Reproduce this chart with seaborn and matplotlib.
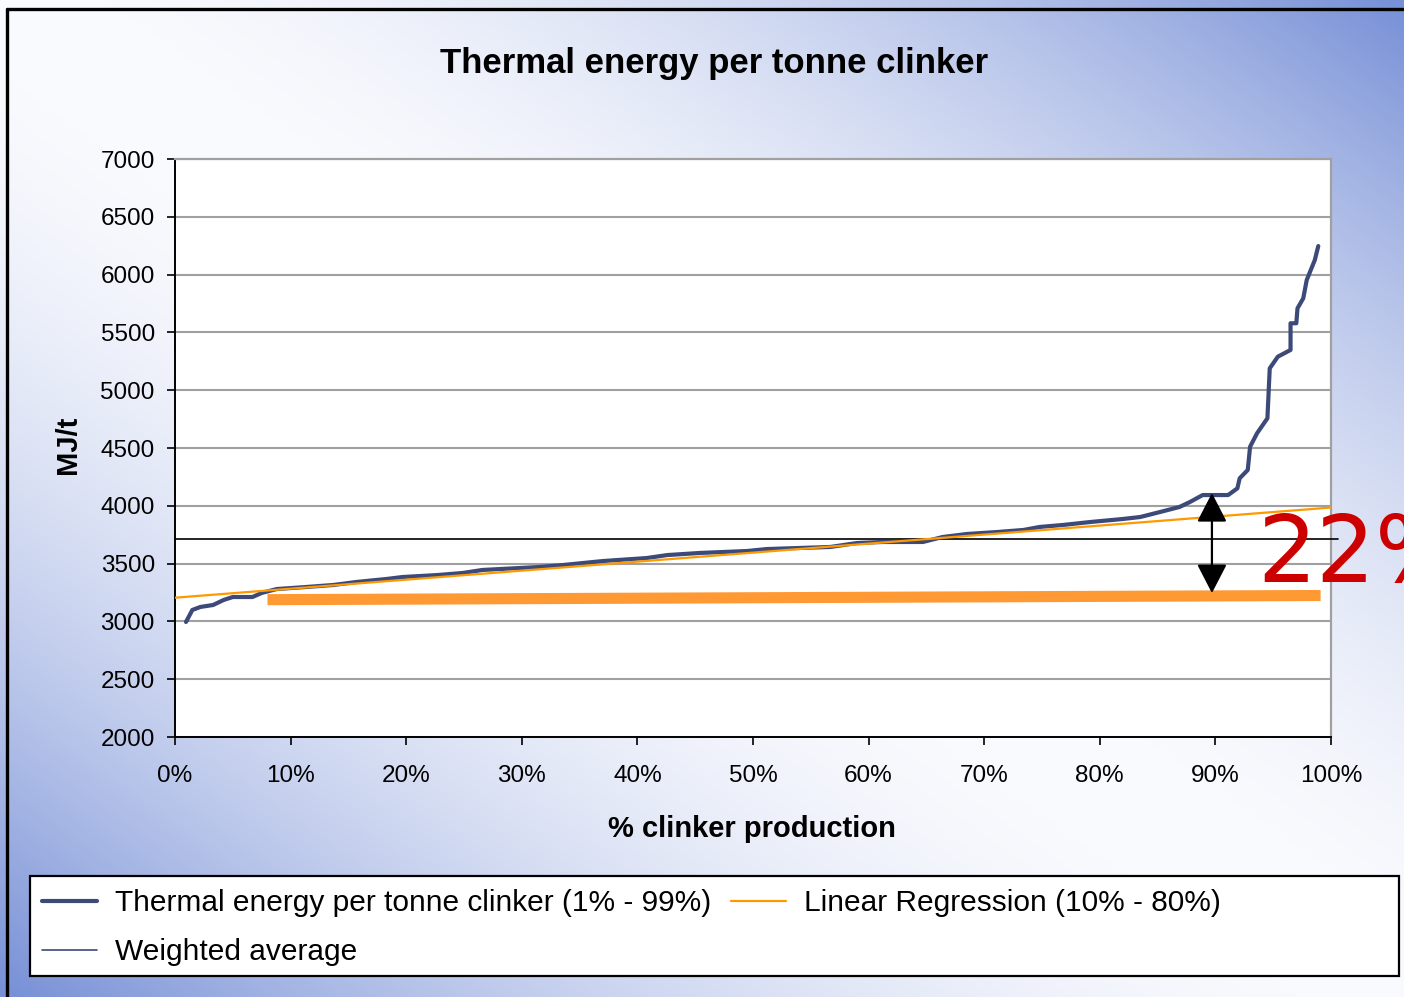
import matplotlib
matplotlib.use("Agg")
import matplotlib.pyplot as plt
import numpy as np
import pandas as pd
import seaborn as sns
from matplotlib.lines import Line2D
from matplotlib.patches import Rectangle
from matplotlib.ticker import FuncFormatter, MultipleLocator

# cumulative % of clinker production vs MJ per tonne
pct = [0.95, 1.5, 2.2, 3.3, 4.2, 5.0, 6.7, 7.5, 8.8, 11.4, 13.7, 15.7, 18.3, 19.7,
       22.7, 24.9, 26.6, 31.6, 33.6, 37.0, 40.8, 42.6, 45.4, 49.5, 51.2, 54.0,
       56.7, 59.0, 61.2, 64.7, 66.4, 68.5, 71.1, 73.4, 74.8, 76.8, 79.2, 82.0,
       83.5, 85.2, 86.9, 87.8, 88.9, 91.1, 91.9, 92.1, 92.8, 93.0, 93.6, 94.5,
       94.6, 94.7, 95.4, 96.5, 96.5, 97.0, 97.1, 97.6, 97.9, 98.6, 98.9]
mjt = [2995, 3099, 3125, 3142, 3185, 3211, 3211, 3246, 3280, 3298, 3315, 3341, 3367, 3384,
       3401, 3419, 3445, 3471, 3488, 3522, 3548, 3574, 3592, 3609, 3626, 3635,
       3644, 3678, 3687, 3687, 3730, 3756, 3773, 3791, 3817, 3834, 3860, 3886,
       3903, 3946, 3990, 4033, 4093, 4093, 4151, 4238, 4310, 4511, 4627, 4757,
       4973, 5189, 5290, 5348, 5579, 5579, 5708, 5795, 5953, 6126, 6247]

reg_x = [0, 100]
reg_y = [3205, 3985]
weighted_avg = 3713
best_x = [8, 99.1]
best_y = [3188, 3224]
arrow_x = 89.7
arrow_top, arrow_bottom = 4110, 3245
gap_label = "22%"

NAVY = "#3c4a7a"
ORANGE = "#ff9900"
BAR = "#ff9933"
GRID = "#a0a0a0"

sns.set_theme(style="white")
plt.rcParams["font.family"] = ["Liberation Sans", "DejaVu Sans"]
plt.rcParams["text.color"] = "black"
plt.rcParams["axes.labelcolor"] = "black"

fig = plt.figure(figsize=(14.04, 9.97), dpi=100)

# diagonal white-to-blue background
W, H = 702, 498
xx, yy = np.meshgrid(np.linspace(0, 1, W), np.linspace(0, 1, H))
f = np.abs(xx - yy) ** 1.8
white = np.array([250, 251, 254]) / 255
blue = np.array([118, 143, 214]) / 255
img = white[None, None, :] * (1 - f[..., None]) + blue[None, None, :] * f[..., None]
bg = fig.add_axes([0, 0, 1, 1], zorder=-5)
bg.imshow(img, aspect="auto", extent=[0, 1, 0, 1])
bg.axis("off")

# outer frame (top and left edges visible)
fig.add_artist(Line2D([7 / 1404, 1.0], [1 - 9 / 997] * 2, color="black", lw=2.4, transform=fig.transFigure))
fig.add_artist(Line2D([7 / 1404] * 2, [0, 1 - 9 / 997], color="black", lw=2.4, transform=fig.transFigure))

ax = fig.add_axes([175 / 1404, 1 - 737 / 997, 1156 / 1404, 578 / 997])
ax.set_facecolor("white")

curve = pd.DataFrame({"pct": pct, "mjt": mjt})
sns.lineplot(data=curve, x="pct", y="mjt", ax=ax, color=NAVY, lw=3.0,
             estimator=None, sort=False, zorder=4)
sns.lineplot(x=reg_x, y=reg_y, ax=ax, color=ORANGE, lw=1.6, zorder=5)
sns.lineplot(x=best_x, y=best_y, ax=ax, color=BAR, lw=8, zorder=3,
             solid_capstyle="butt")
ax.plot([0, 100.6], [weighted_avg] * 2, color="black", lw=1.2, zorder=3, clip_on=False)

ax.annotate("", xy=(arrow_x, arrow_bottom), xytext=(arrow_x, arrow_top),
            arrowprops=dict(arrowstyle="<|-|>,head_length=0.6,head_width=0.31",
                            mutation_scale=30, color="black", lw=1.6,
                            shrinkA=0, shrinkB=0), zorder=6)
ax.text(93.6, 3340, gap_label, color="#cc0000", fontsize=67,
        family="DejaVu Sans", ha="left", va="baseline", clip_on=False, zorder=7)

ax.set_xlim(0, 100)
ax.set_ylim(2000, 7000)
ax.xaxis.set_major_locator(MultipleLocator(10))
ax.yaxis.set_major_locator(MultipleLocator(500))
ax.xaxis.set_major_formatter(FuncFormatter(lambda v, p: f"{v:.0f}%"))
ax.yaxis.grid(True, color=GRID, lw=1.5)
ax.set_axisbelow(True)
ax.tick_params(axis="both", direction="out", bottom=True, left=True, length=5.5,
               width=1.2, color="black", labelsize=17.5, labelcolor="black")
ax.tick_params(axis="y", pad=9)
ax.tick_params(axis="x", pad=15)
for s in ["left", "bottom"]:
    ax.spines[s].set_color("black")
    ax.spines[s].set_linewidth(1.4)
for s in ["top", "right"]:
    ax.spines[s].set_color(GRID)
    ax.spines[s].set_linewidth(1.6)
ax.set_xlabel("")
ax.set_ylabel("")

fig.text(714 / 1404, 1 - 64 / 997, "Thermal energy per tonne clinker", fontsize=25,
         fontweight="bold", ha="center", va="center")
fig.text(752 / 1404, 1 - 829 / 997, "% clinker production", fontsize=21,
         fontweight="bold", ha="center", va="center")
fig.text(68 / 1404, 1 - 445 / 997, "MJ/t", fontsize=21, fontweight="bold",
         rotation=90, ha="center", va="center")

# legend box
fig.add_artist(Rectangle((30 / 1404, 1 - 976 / 997), 1369 / 1404, 100 / 997,
                         transform=fig.transFigure, facecolor="white",
                         edgecolor="black", lw=1.6, zorder=2))
handles = [Line2D([], [], color=NAVY, lw=3.0),
           Line2D([], [], color=NAVY, lw=1.2),
           Line2D([], [], color=ORANGE, lw=1.6)]
labels = ["Thermal energy per tonne clinker (1% - 99%)", "Weighted average",
          "Linear Regression (10% - 80%)"]
fig.legend(handles, labels, ncol=2, frameon=False, loc="upper left",
           bbox_to_anchor=(36 / 1404, 1 - 883 / 997),
           prop={"family": "Liberation Sans", "size": 21.5},
           handlelength=1.85, handletextpad=0.6, columnspacing=0.65,
           labelspacing=0.72, borderpad=0.2, borderaxespad=0)

fig.savefig("out.png", dpi=100)
